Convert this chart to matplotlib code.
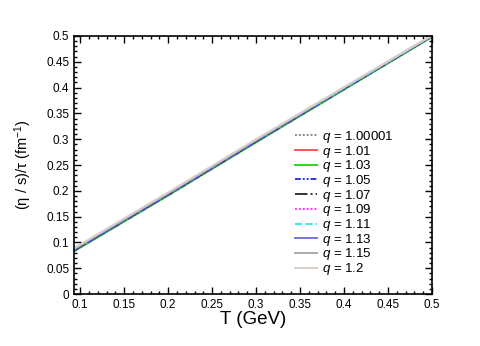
import matplotlib
matplotlib.use("Agg")
import matplotlib.pyplot as plt
from matplotlib.ticker import MultipleLocator

plt.rcParams['font.family'] = ['Liberation Sans', 'DejaVu Sans']
plt.rcParams['mathtext.fontset'] = 'custom'
plt.rcParams['mathtext.it'] = 'Liberation Sans:italic'
plt.rcParams['mathtext.rm'] = 'Liberation Sans'

T = [0.093, 0.2, 0.3, 0.4, 0.5]
q_labels = ['1.00001', '1.01', '1.03', '1.05', '1.07', '1.09', '1.11', '1.13', '1.15', '1.2']
y_q100001 = [0.086, 0.194, 0.297, 0.399, 0.500]
y_q101 = [0.085, 0.193, 0.296, 0.398, 0.499]
y_q103 = [0.083, 0.191, 0.294, 0.396, 0.498]
y_q105 = [0.084, 0.192, 0.295, 0.397, 0.499]
y_q107 = [0.085, 0.193, 0.296, 0.398, 0.499]
y_q109 = [0.086, 0.194, 0.297, 0.399, 0.500]
y_q111 = [0.087, 0.195, 0.298, 0.399, 0.500]
y_q113 = [0.087, 0.195, 0.298, 0.400, 0.500]
y_q115 = [0.088, 0.196, 0.299, 0.400, 0.501]
y_q12 = [0.089, 0.197, 0.300, 0.401, 0.501]
series = [y_q100001, y_q101, y_q103, y_q105, y_q107, y_q109, y_q111, y_q113, y_q115, y_q12]

styles = [
    dict(color='#888888', ls=(0, (1, 1))),
    dict(color='#ff5555', ls='-'),
    dict(color='#22dd22', ls='-'),
    dict(color='#3333ee', ls=(0, (3, 1, 1, 1, 1, 1))),
    dict(color='#333333', ls='-.'),
    dict(color='#ff33ff', ls=(0, (1, 1))),
    dict(color='#33eeee', ls='--'),
    dict(color='#7777dd', ls='-'),
    dict(color='#aaaaaa', ls='-'),
    dict(color='#d8d0c8', ls='-'),
]

fig = plt.figure(figsize=(4.81, 3.46), dpi=100)
ax = fig.add_axes([0.154, 0.150, 0.744, 0.746])

for y, lab, st in zip(series, q_labels, styles):
    ax.plot(T, y, lw=1.4, label=r'$q$ = ' + lab, **st)

ax.set_xlim(0.093, 0.5)
ax.set_ylim(0, 0.5)
ax.xaxis.set_major_locator(MultipleLocator(0.05))
ax.xaxis.set_minor_locator(MultipleLocator(0.01))
ax.yaxis.set_major_locator(MultipleLocator(0.05))
ax.yaxis.set_minor_locator(MultipleLocator(0.01))
ax.xaxis.set_major_formatter(plt.FuncFormatter(lambda v, p: ('%g' % round(v, 3))))
ax.yaxis.set_major_formatter(plt.FuncFormatter(lambda v, p: ('%g' % round(v, 3))))
ax.tick_params(which='both', direction='in', top=True, right=True, labelsize=8.5, width=1)
ax.tick_params(which='major', length=5)
ax.tick_params(which='minor', length=2.5)
for s in ax.spines.values():
    s.set_linewidth(1.2)

ax.set_xlabel('T (GeV)', fontsize=13.5, labelpad=0)
ax.set_ylabel(r'(η / s)/τ (fm$^{-1}$)', fontsize=10.5, labelpad=9)

ax.legend(loc='upper left', bbox_to_anchor=(0.6, 0.665), frameon=False, fontsize=9.5,
          handlelength=1.6, handletextpad=0.4, labelspacing=-0.1, borderpad=0)

fig.savefig('out.png', dpi=100)
